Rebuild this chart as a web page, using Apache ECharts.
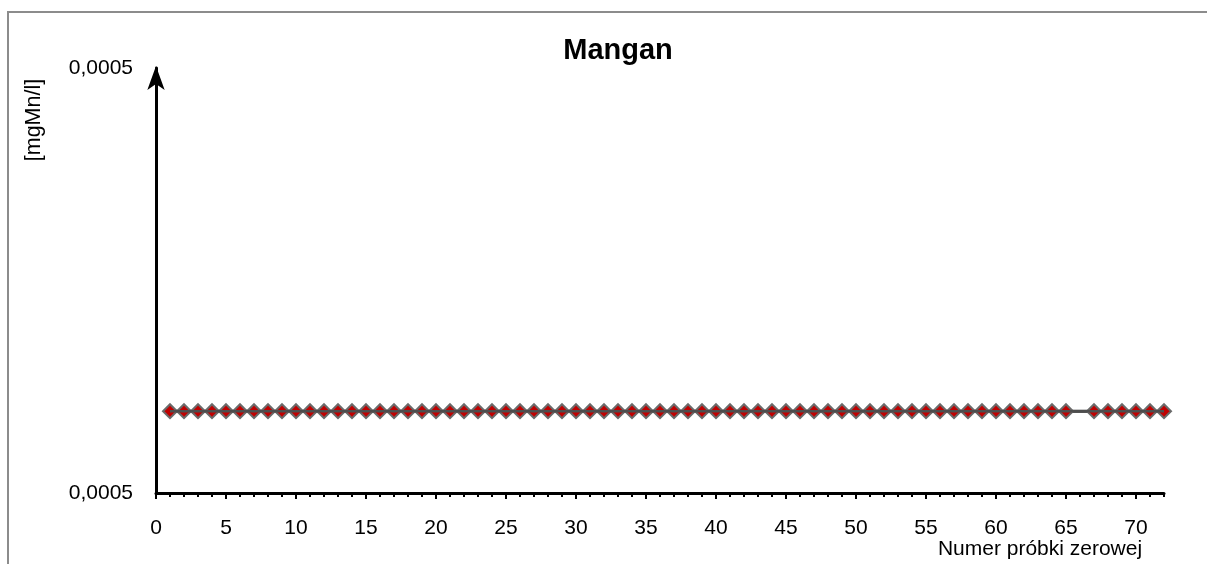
<!DOCTYPE html>
<html>
<head>
<meta charset="utf-8">
<script src="https://cdn.jsdelivr.net/npm/echarts@6/dist/echarts.min.js"></script>
<style>
html,body{margin:0;padding:0;background:#fff;}
#chart{width:1207px;height:564px;}
</style>
</head>
<body>
<div id="chart"></div>
<script>
// ---- data ----
const chartTitle = 'Mangan';
const yAxisName = '[mgMn/l]';
const xAxisName = 'Numer próbki zerowej';
const sampleNumbers = [1,2,3,4,5,6,7,8,9,10,11,12,13,14,15,16,17,18,19,20,21,22,23,24,25,26,27,28,29,30,31,32,33,34,35,36,37,38,39,40,41,42,43,44,45,46,47,48,49,50,51,52,53,54,55,56,57,58,59,60,61,62,63,64,65,66,67,68,69,70,71,72];
const manganValues = [0.0004877,0.0004877,0.0004877,0.0004877,0.0004877,0.0004877,0.0004877,0.0004877,0.0004877,0.0004877,0.0004877,0.0004877,0.0004877,0.0004877,0.0004877,0.0004877,0.0004877,0.0004877,0.0004877,0.0004877,0.0004877,0.0004877,0.0004877,0.0004877,0.0004877,0.0004877,0.0004877,0.0004877,0.0004877,0.0004877,0.0004877,0.0004877,0.0004877,0.0004877,0.0004877,0.0004877,0.0004877,0.0004877,0.0004877,0.0004877,0.0004877,0.0004877,0.0004877,0.0004877,0.0004877,0.0004877,0.0004877,0.0004877,0.0004877,0.0004877,0.0004877,0.0004877,0.0004877,0.0004877,0.0004877,0.0004877,0.0004877,0.0004877,0.0004877,0.0004877,0.0004877,0.0004877,0.0004877,0.0004877,0.0004877,0.0004877,0.0004877,0.0004877,0.0004877,0.0004877,0.0004877,0.0004877];
const samplesWithoutMarker = [66];
const xMajorTicks = [0,5,10,15,20,25,30,35,40,45,50,55,60,65,70];
const xMinorTicks = [0,1,2,3,4,5,6,7,8,9,10,11,12,13,14,15,16,17,18,19,20,21,22,23,24,25,26,27,28,29,30,31,32,33,34,35,36,37,38,39,40,41,42,43,44,45,46,47,48,49,50,51,52,53,54,55,56,57,58,59,60,61,62,63,64,65,66,67,68,69,70,71,72];
const xMin = 0, xMax = 72;
const yMin = 0.00048, yMax = 0.00052, yInterval = 0.00004;

// ---- chart ----
const FONT = '"Liberation Sans", Arial, sans-serif';
const chart = echarts.init(document.getElementById('chart'), null, {renderer: 'canvas'});

const markerData = sampleNumbers.map((n, i) => {
  const item = {value: [n, manganValues[i]]};
  if (samplesWithoutMarker.indexOf(n) >= 0) item.symbol = 'none';
  return item;
});
const lineData = sampleNumbers.map((n, i) => [n, manganValues[i]]);

const option = {
  backgroundColor: '#ffffff',
  animation: false,
  title: {
    text: chartTitle,
    left: 613,
    top: 31,
    textAlign: 'center',
    textStyle: {fontFamily: FONT, fontSize: 29, fontWeight: 'bold', color: '#000'}
  },
  graphic: [
    {
      type: 'rect',
      shape: {x: 8, y: 12, width: 1260, height: 620},
      style: {fill: 'none', stroke: '#8c8c8c', lineWidth: 2},
      silent: true, z: -10
    },
    {
      type: 'text',
      x: 34, y: 120,
      rotation: Math.PI / 2,
      style: {text: yAxisName, fontFamily: FONT, fontSize: 21.5, fill: '#000', textAlign: 'center', textVerticalAlign: 'middle'}
    },
    {
      type: 'text',
      x: 1040, y: 549,
      style: {text: xAxisName, fontFamily: FONT, fontSize: 21, fill: '#000', textAlign: 'center', textVerticalAlign: 'middle'}
    }
  ],
  grid: {left: 156, right: 43, top: 68, bottom: 71, containLabel: false},
  xAxis: [
    {
      type: 'value', min: xMin, max: xMax, interval: 5, position: 'bottom',
      axisLine: {show: true, lineStyle: {color: '#000', width: 3}},
      axisTick: {show: true, inside: false, length: 6, lineStyle: {color: '#000', width: 2}, customValues: xMajorTicks},
      axisLabel: {show: true, margin: 25, fontFamily: FONT, fontSize: 21, color: '#000', customValues: xMajorTicks},
      splitLine: {show: false}
    },
    {
      type: 'value', min: xMin, max: xMax, interval: 1, position: 'bottom',
      axisLine: {show: false},
      axisTick: {show: true, inside: false, length: 4, lineStyle: {color: '#000', width: 2}, customValues: xMinorTicks},
      axisLabel: {show: false},
      splitLine: {show: false}
    }
  ],
  yAxis: {
    type: 'value', min: yMin, max: yMax, interval: yInterval,
    axisLine: {show: true, lineStyle: {color: '#000', width: 3}, symbol: ['none', 'arrow'], symbolSize: [13, 24], symbolOffset: [0, 2]},
    axisTick: {show: false},
    axisLabel: {show: true, margin: 23, fontFamily: FONT, fontSize: 21, color: '#000',
      formatter: v => v.toFixed(4).replace('.', ',')},
    splitLine: {show: false}
  },
  series: [
    {
      name: 'markers',
      type: 'line',
      xAxisIndex: 0,
      data: markerData,
      symbol: 'diamond',
      symbolSize: [14, 14],
      showAllSymbol: true,
      lineStyle: {color: '#262626', width: 3},
      itemStyle: {color: '#c00000', borderColor: '#6a6a6a', borderWidth: 2},
      z: 2
    },
    {
      name: 'line',
      type: 'line',
      xAxisIndex: 0,
      data: lineData,
      showSymbol: false,
      lineStyle: {color: '#4d4d4d', width: 2.5},
      silent: true,
      z: 4
    }
  ]
};
chart.setOption(option);
</script>
</body>
</html>
